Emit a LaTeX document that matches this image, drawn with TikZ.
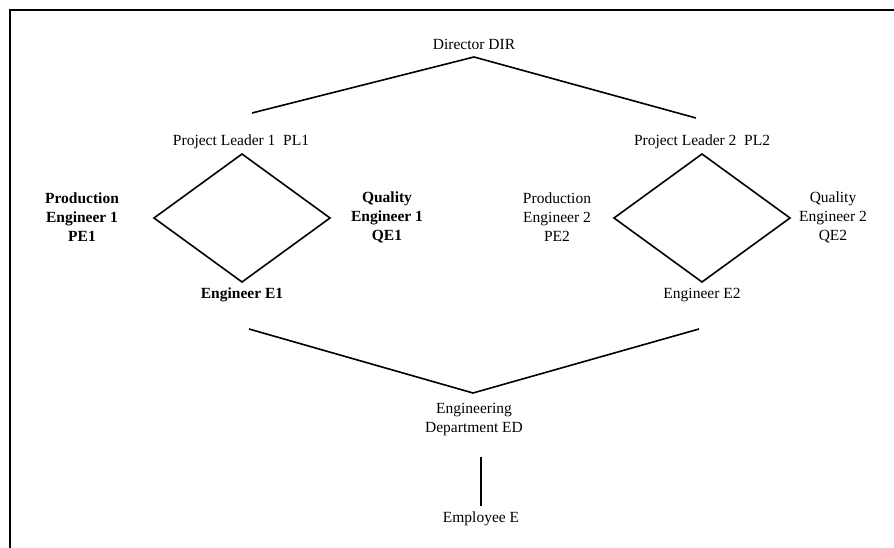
\documentclass[tikz,border=0pt]{standalone}
\usepackage{fontspec}
\setmainfont{Liberation Serif}
\begin{document}
\begin{tikzpicture}[x=1pt,y=-1pt,
  lbl/.style={font=\fontsize{15.5}{19}\selectfont, align=center, inner sep=0pt},
  blbl/.style={lbl, font=\fontsize{15.5}{19}\selectfont\bfseries},
  conn/.style={line width=1.6pt, line join=miter},
  frame/.style={line width=1.6pt}]
\useasboundingbox (0,0) rectangle (894,548);
\draw[frame] (10,548) -- (10,10) -- (894,10);

% texts
\node[lbl] (dir) at (474,44) {Director DIR};
\node[lbl] (pl1) at (241,142) {Project Leader 1\ \ PL1};
\node[lbl] (pl2) at (702,142) {Project Leader 2\ \ PL2};
\node[blbl] (pe1) at (82,217) {Production\\Engineer 1\\PE1};
\node[blbl] (qe1) at (387,217) {Quality\\Engineer 1\\QE1};
\node[lbl] (pe2) at (557,217) {Production\\Engineer 2\\PE2};
\node[lbl] (qe2) at (833,217) {Quality\\Engineer 2\\QE2};
\node[blbl] (e1) at (242,295) {Engineer E1};
\node[lbl] (e2) at (702,295) {Engineer E2};
\node[lbl] (ed) at (474,420) {Engineering\\Department ED};
\node[lbl] (emp) at (481,519) {Employee E};

% connector points
\coordinate (dirA) at (474,57);
\coordinate (dirL) at (252,113);
\coordinate (dirR) at (696,118);
\coordinate (d1t) at (242,154);
\coordinate (d1l) at (154,218);
\coordinate (d1r) at (330,218);
\coordinate (d1b) at (242,282);
\coordinate (d2t) at (702,154);
\coordinate (d2l) at (614,218);
\coordinate (d2r) at (790,218);
\coordinate (d2b) at (702,282);
\coordinate (edL) at (249,329);
\coordinate (edA) at (473,393);
\coordinate (edR) at (699,329);
\coordinate (empT) at (481,457);
\coordinate (empB) at (481,506);

\draw[conn] (dirL) -- (dirA) -- (dirR);
\draw[conn] (d1t) -- (d1r) -- (d1b) -- (d1l) -- cycle;
\draw[conn] (d2t) -- (d2r) -- (d2b) -- (d2l) -- cycle;
\draw[conn] (edL) -- (edA) -- (edR);
\draw[conn] (empT) -- (empB);
\end{tikzpicture}
\end{document}
